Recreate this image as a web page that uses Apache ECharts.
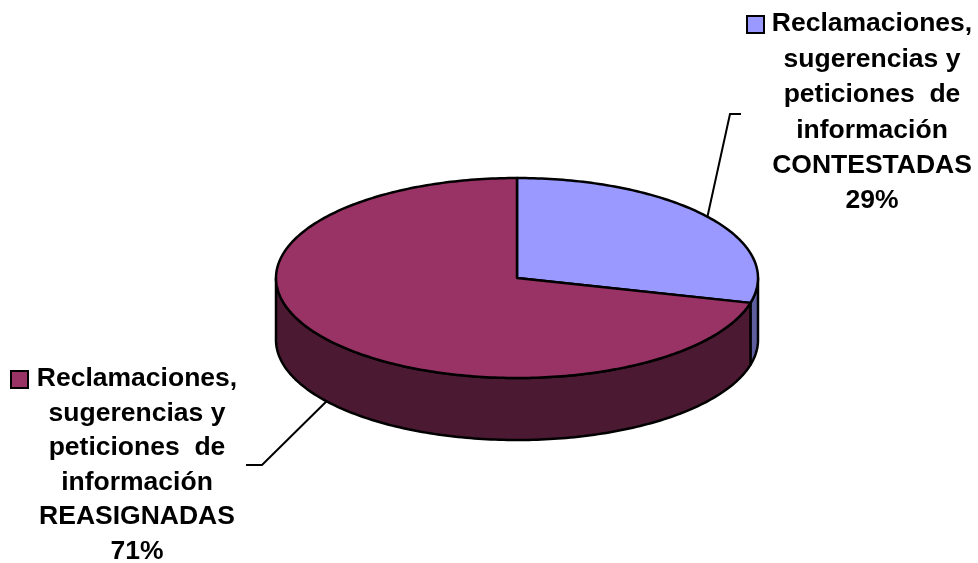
<!DOCTYPE html>
<html>
<head>
<meta charset="utf-8">
<script src="https://cdn.jsdelivr.net/npm/echarts@6/dist/echarts.min.js"></script>
<style>html,body{margin:0;padding:0;background:#fff}#chart{width:978px;height:563px}</style>
</head>
<body>
<div id="chart"></div>
<script>
// ---- data ----
var categories = [
  'Reclamaciones,\nsugerencias y\npeticiones  de\ninformación\nCONTESTADAS',
  'Reclamaciones,\nsugerencias y\npeticiones  de\ninformación\nREASIGNADAS'
];
var values = [29, 71];

// ---- styling / layout ----
var topColors = ['#9999FF', '#993366'];
var sideColors = ['#5E5E9E', '#4C1933'];
var geo = { cx: 517, cy: 278, rx: 241, ry: 100, depth: 62 };
var labelLayout = [
  { x: 872, y: 24, lh: 35.4, keyX: 747, elbow: [730, 114], end: [741, 114], onSide: false },
  { x: 137, y: 379, lh: 34.5, keyX: 11, elbow: [262, 465], end: [246, 465], onSide: true }
];

var total = values.reduce(function (a, b) { return a + b; }, 0);
function pt(a, dy) {
  return [geo.cx + geo.rx * Math.sin(a), geo.cy - geo.ry * Math.cos(a) + (dy || 0)];
}
function arc(a0, a1, dy) {
  var pts = [], n = Math.max(2, Math.ceil((a1 - a0) / (Math.PI / 180)));
  for (var i = 0; i <= n; i++) pts.push(pt(a0 + (a1 - a0) * i / n, dy));
  return pts;
}

var chart = echarts.init(document.getElementById('chart'), null, { renderer: 'canvas' });
chart.setOption({
  backgroundColor: '#ffffff',
  animation: false,
  series: [{
    type: 'custom',
    coordinateSystem: 'none',
    data: values.map(function (v, i) { return [v, i]; }),
    renderItem: function (params, api) {
      var i = params.dataIndex;
      var v = api.value(0);
      var before = 0;
      for (var k = 0; k < i; k++) before += values[k];
      var a0 = before / total * 2 * Math.PI;
      var a1 = (before + v) / total * 2 * Math.PI;
      var children = [];
      // side face (front half only)
      var s0 = Math.max(a0, Math.PI / 2), s1 = Math.min(a1, 3 * Math.PI / 2);
      if (s1 > s0) {
        var topArc = arc(s0, s1, 0);
        var botArc = arc(s0, s1, geo.depth).reverse();
        children.push({
          type: 'polygon',
          shape: { points: topArc.concat(botArc) },
          style: { fill: sideColors[i], stroke: '#000', lineWidth: 2.5, lineJoin: 'round' }
        });
      }
      // top face
      children.push({
        type: 'polygon',
        shape: { points: [[geo.cx, geo.cy]].concat(arc(a0, a1, 0)) },
        style: { fill: topColors[i], stroke: '#000', lineWidth: 2.5, lineJoin: 'round' }
      });
      // leader line
      var L = labelLayout[i];
      var mid = (a0 + a1) / 2;
      var anchor = pt(mid, L.onSide ? geo.depth : 0);
      children.push({
        type: 'polyline',
        shape: { points: [anchor, L.elbow, L.end] },
        style: { stroke: '#000', lineWidth: 2, fill: null }
      });
      // label
      var pct = Math.round(v / total * 100) + '%';
      children.push({
        type: 'text',
        x: L.x,
        y: L.y - L.lh / 2,
        style: {
          text: categories[i] + '\n' + pct,
          fill: '#000',
          font: 'bold 26.5px "Liberation Sans", Arial, sans-serif',
          lineHeight: L.lh,
          align: 'center',
          verticalAlign: 'top'
        }
      });
      // legend key
      children.push({
        type: 'rect',
        shape: { x: L.keyX, y: L.y - 8, width: 17, height: 17 },
        style: { fill: topColors[i], stroke: '#000', lineWidth: 2 }
      });
      return { type: 'group', children: children };
    }
  }]
});
</script>
</body>
</html>
